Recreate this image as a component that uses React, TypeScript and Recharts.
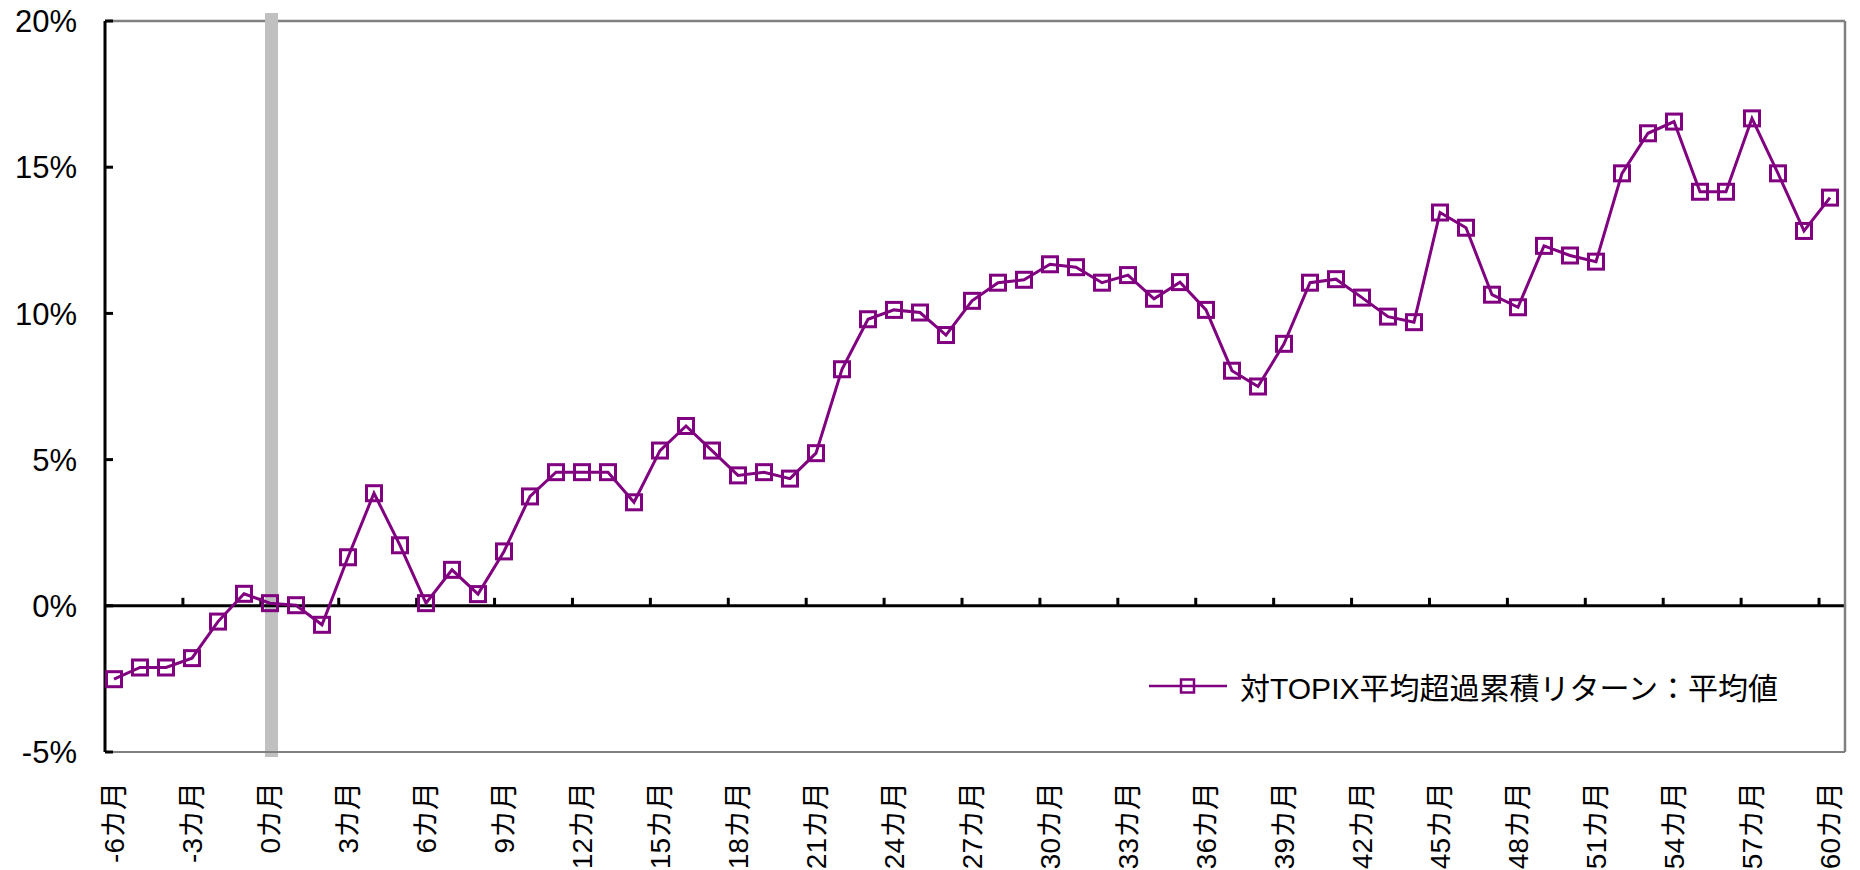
import React from "react";
import { LineChart, Line, XAxis, YAxis, ReferenceLine, Legend } from "recharts";

const FONT = '"Liberation Sans", Arial, "Noto Sans CJK JP", sans-serif';
const PURPLE = "#800080";

// months relative to the event (0カ月)
const monthLabels = [
  "-6カ月", "-5カ月", "-4カ月", "-3カ月", "-2カ月", "-1カ月", "0カ月",
  "1カ月", "2カ月", "3カ月", "4カ月", "5カ月", "6カ月", "7カ月", "8カ月", "9カ月",
  "10カ月", "11カ月", "12カ月", "13カ月", "14カ月", "15カ月", "16カ月", "17カ月",
  "18カ月", "19カ月", "20カ月", "21カ月", "22カ月", "23カ月", "24カ月", "25カ月",
  "26カ月", "27カ月", "28カ月", "29カ月", "30カ月", "31カ月", "32カ月", "33カ月",
  "34カ月", "35カ月", "36カ月", "37カ月", "38カ月", "39カ月", "40カ月", "41カ月",
  "42カ月", "43カ月", "44カ月", "45カ月", "46カ月", "47カ月", "48カ月", "49カ月",
  "50カ月", "51カ月", "52カ月", "53カ月", "54カ月", "55カ月", "56カ月", "57カ月",
  "58カ月", "59カ月", "60カ月",
];

// 対TOPIX平均超過累積リターン（%）
const excessReturn = [
  -2.51, -2.11, -2.11, -1.79, -0.54, 0.41, 0.09,
  0.02, -0.65, 1.66, 3.85, 2.07, 0.09, 1.23, 0.4, 1.86,
  3.74, 4.57, 4.57, 4.57, 3.54, 5.31, 6.15, 5.31,
  4.46, 4.57, 4.35, 5.22, 8.09, 9.8, 10.12, 10.03,
  9.26, 10.43, 11.05, 11.15, 11.68, 11.58, 11.05, 11.31,
  10.5, 11.07, 10.12, 8.04, 7.5, 8.96, 11.05, 11.17,
  10.54, 9.89, 9.7, 13.45, 12.93, 10.64, 10.21, 12.31,
  11.98, 11.77, 14.79, 16.16, 16.56, 14.16, 14.16, 16.67,
  14.79, 12.82, 13.96,
];

const yTicks = [-5, 0, 5, 10, 15, 20];
const seriesName = "対TOPIX平均超過累積リターン：平均値";

const data = monthLabels.map((label, i) => ({ label, value: excessReturn[i] }));

const XTick = ({ x, y, payload }: any) => (
  <text
    x={x}
    y={y}
    dy="0.36em"
    transform={`rotate(-90, ${x}, ${y})`}
    textAnchor="end"
    fontSize={28}
    fontFamily={FONT}
    fill="#000"
  >
    {payload.value}
  </text>
);

const YTick = ({ x, y, payload }: any) => (
  <g>
    <line x1={x + 28} x2={x + 36} y1={y} y2={y} stroke="#000" strokeWidth={3} />
    <text x={x} y={y} dy="0.36em" textAnchor="end" fontSize={31} fontFamily={FONT} fill="#000">
      {payload.value}%
    </text>
  </g>
);

// 0% line with the category tick marks every 3 months
const ZeroLine = (props: any) => {
  const left = Math.min(props.x1, props.x2);
  const right = Math.max(props.x1, props.x2);
  const band = (right - left) / monthLabels.length;
  const ticks: number[] = [];
  for (let i = 3; i < monthLabels.length; i += 3) ticks.push(left + band * i);
  return (
    <g>
      <line x1={left} x2={right} y1={props.y1} y2={props.y1} stroke="#000" strokeWidth={3} />
      {ticks.map((t) => (
        <line key={t} x1={t} x2={t} y1={props.y1} y2={props.y1 - 8} stroke="#000" strokeWidth={3} />
      ))}
    </g>
  );
};

const EventBar = (props: any) => {
  const top = Math.min(props.y1, props.y2);
  const bottom = Math.max(props.y1, props.y2);
  return <rect x={props.x1 - 5} y={top - 8} width={13} height={bottom - top + 13} fill="#c0c0c0" />;
};

const SquareDot = (props: any) => {
  const { cx, cy, index } = props;
  if (cx == null || cy == null) return null;
  return (
    <rect key={index} x={cx - 7.5} y={cy - 7.5} width={15} height={15} fill="none" stroke={PURPLE} strokeWidth={3} />
  );
};

const LegendContent = ({ payload }: any) => (
  <div style={{ display: "flex", alignItems: "center", height: 40, whiteSpace: "nowrap", fontFamily: FONT, fontSize: 30, color: "#000" }}>
    <svg width={78} height={20}>
      <line x1={0} x2={78} y1={10} y2={10} stroke={PURPLE} strokeWidth={2.5} />
      <rect x={32} y={3.5} width={13} height={13} fill="none" stroke={PURPLE} strokeWidth={2.5} />
    </svg>
    <span style={{ marginLeft: 13 }}>{payload && payload[0] ? payload[0].value : seriesName}</span>
  </div>
);

export default function App() {
  return (
    <div style={{ position: "absolute", left: 0, top: 0, width: 1860, height: 870, background: "#fff" }}>
      <LineChart width={1860} height={870} data={data} margin={{ top: 21, right: 14, bottom: 0, left: 0 }}>
        <XAxis
          dataKey="label"
          scale="point"
          padding={{ left: 9, right: 15 }}
          interval={2}
          height={118}
          tickSize={0}
          tickMargin={30}
          tickLine={false}
          axisLine={{ stroke: "#808080", strokeWidth: 2 }}
          tick={<XTick />}
        />
        <YAxis
          domain={[-5, 20]}
          ticks={yTicks}
          width={105}
          tickSize={0}
          tickMargin={28}
          tickLine={false}
          axisLine={{ stroke: "#000", strokeWidth: 3 }}
          tick={<YTick />}
        />
        <YAxis
          yAxisId="r"
          orientation="right"
          domain={[-5, 20]}
          width={1}
          tick={false}
          tickLine={false}
          axisLine={{ stroke: "#808080", strokeWidth: 2.5 }}
        />
        <ReferenceLine y={20} stroke="#808080" strokeWidth={2.5} />
        <ReferenceLine x="0カ月" shape={<EventBar />} />
        <ReferenceLine y={0} shape={<ZeroLine />} />
        <Legend
          layout="horizontal"
          verticalAlign="middle"
          align="center"
          content={<LegendContent />}
          wrapperStyle={{ position: "absolute", left: 1149, top: 666, width: 720 }}
        />
        <Line
          type="linear"
          dataKey="value"
          name={seriesName}
          stroke={PURPLE}
          strokeWidth={3}
          dot={<SquareDot />}
          activeDot={false}
          isAnimationActive={false}
        />
      </LineChart>
    </div>
  );
}
